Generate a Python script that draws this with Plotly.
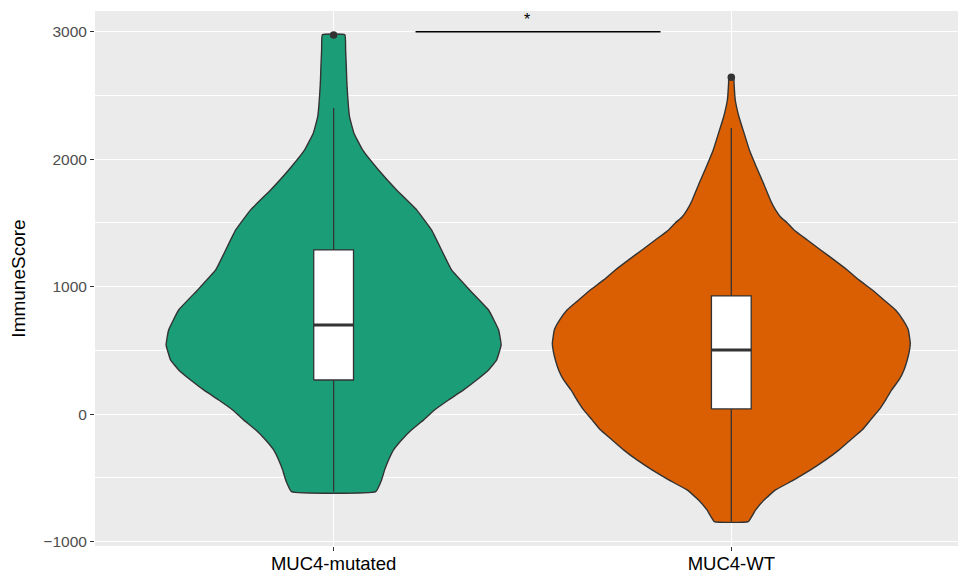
import plotly.graph_objects as go

# ---------------- data ----------------
groups = ["MUC4-mutated", "MUC4-WT"]
fill_colors = ["#1B9E77", "#D95F02"]

# violin density profiles (ImmuneScore value, relative half-width; 1.0 = widest violin)
mut_y = [2976, 2857, 2723, 2598, 2464, 2331, 2206, 2072, 1915, 1758, 1602, 1445, 1288,
         1131, 974, 817, 660, 543, 425, 347, 268, 190, 111, 33, -45, -123, -202, -280,
         -359, -437, -516, -608]
mut_d = [0.063, 0.067, 0.071, 0.074, 0.080, 0.089, 0.113, 0.162, 0.251, 0.352, 0.464,
         0.547, 0.603, 0.659, 0.760, 0.866, 0.922, 0.936, 0.911, 0.866, 0.799, 0.726,
         0.642, 0.564, 0.503, 0.436, 0.380, 0.335, 0.307, 0.285, 0.268, 0.235]

wt_y = [2645, 2598, 2464, 2331, 2206, 2072, 1939, 1813, 1680, 1602, 1547, 1500, 1445,
        1366, 1288, 1210, 1131, 1053, 974, 896, 817, 739, 660, 558, 504, 425, 347, 268,
        190, 111, 33, -45, -123, -202, -280, -359, -437, -516, -594, -673, -751, -842]
wt_d = [0.014, 0.015, 0.022, 0.043, 0.071, 0.101, 0.140, 0.179, 0.218, 0.247, 0.275,
        0.313, 0.350, 0.425, 0.499, 0.574, 0.648, 0.713, 0.788, 0.853, 0.918, 0.959,
        0.989, 1.000, 0.996, 0.983, 0.965, 0.937, 0.896, 0.862, 0.825, 0.778, 0.732,
        0.666, 0.602, 0.527, 0.443, 0.350, 0.247, 0.183, 0.136, 0.095]

# boxplot statistics
box_q1 = [268, 41]
box_median = [700, 504]
box_q3 = [1288, 927]
box_lower = [-608, -842]
box_upper = [2402, 2245]
outliers = [2974, 2643]

# significance
sig_label = "*"
sig_y = 3000
sig_x = [1.206, 1.822]
sig_label_x = 1.487

y_ticks = [-1000, 0, 1000, 2000, 3000]
y_minor = [-500, 500, 1500, 2500]

# ---------------- figure ----------------
fig = go.Figure()
positions = [1, 2]
violin_half = 0.45
box_w = 0.1
outline = "#333333"

for pos, ys, ds, col in [(1, mut_y, mut_d, fill_colors[0]), (2, wt_y, wt_d, fill_colors[1])]:
    xs = [pos - violin_half * d for d in ds] + [pos + violin_half * d for d in reversed(ds)]
    yy = list(ys) + list(reversed(ys))
    xs.append(xs[0]); yy.append(yy[0])
    fig.add_trace(go.Scatter(x=xs, y=yy, mode="lines", fill="toself", fillcolor=col,
                             line=dict(color=outline, width=1.4, shape="spline", smoothing=0.3),
                             hoverinfo="skip", showlegend=False))

for i, pos in enumerate(positions):
    # whiskers
    fig.add_trace(go.Scatter(x=[pos, pos, None, pos, pos],
                             y=[box_q3[i], box_upper[i], None, box_q1[i], box_lower[i]],
                             mode="lines", line=dict(color=outline, width=1.3),
                             showlegend=False, hoverinfo="skip"))
    # box
    x0, x1 = pos - box_w / 2, pos + box_w / 2
    fig.add_trace(go.Scatter(x=[x0, x1, x1, x0, x0],
                             y=[box_q1[i], box_q1[i], box_q3[i], box_q3[i], box_q1[i]],
                             mode="lines", fill="toself", fillcolor="white",
                             line=dict(color=outline, width=1.3),
                             showlegend=False, hoverinfo="skip"))
    # median (thicker, as ggplot)
    fig.add_trace(go.Scatter(x=[x0, x1], y=[box_median[i], box_median[i]], mode="lines",
                             line=dict(color=outline, width=3), showlegend=False,
                             hoverinfo="skip"))
    fig.add_trace(go.Scatter(x=[pos], y=[outliers[i]], mode="markers",
                             marker=dict(color=outline, size=7.5), showlegend=False))

# significance bar
fig.add_trace(go.Scatter(x=sig_x, y=[sig_y, sig_y], mode="lines",
                         line=dict(color="black", width=1.5), showlegend=False,
                         hoverinfo="skip"))
fig.add_annotation(x=sig_label_x, y=sig_y, text=sig_label, showarrow=False,
                   yanchor="bottom", yshift=2, font=dict(size=16, color="black"))

fig.update_layout(
    width=958, height=574,
    margin=dict(l=95, r=0, t=11, b=28),
    paper_bgcolor="white", plot_bgcolor="#EBEBEB",
    font=dict(family="Liberation Sans, Arial, sans-serif"),
    showlegend=False,
)
fig.update_xaxes(range=[0.4, 2.57], tickvals=positions, ticktext=groups,
                 showgrid=True, gridcolor="white", gridwidth=1.4, zeroline=False,
                 ticks="outside", ticklen=4, tickcolor=outline, tickwidth=1,
                 ticklabelstandoff=-3,
                 tickfont=dict(size=18.5, color="black"), showline=False, automargin=False)
fig.update_yaxes(range=[-1034, 3162], tickvals=y_ticks,
                 showgrid=True, gridcolor="white", gridwidth=1.4, zeroline=False,
                 ticks="outside", ticklen=4, tickcolor=outline, tickwidth=1,
                 tickfont=dict(size=15.5, color="#4D4D4D"), automargin=False,
                 minor=dict(tickvals=y_minor, showgrid=True,
                            gridcolor="white", gridwidth=0.7, ticks=""),
                 title=dict(text="ImmuneScore", font=dict(size=19, color="black"), standoff=12))

fig.write_html("out.html", config={"displayModeBar": False},
               post_script="document.body.style.margin='0';")
